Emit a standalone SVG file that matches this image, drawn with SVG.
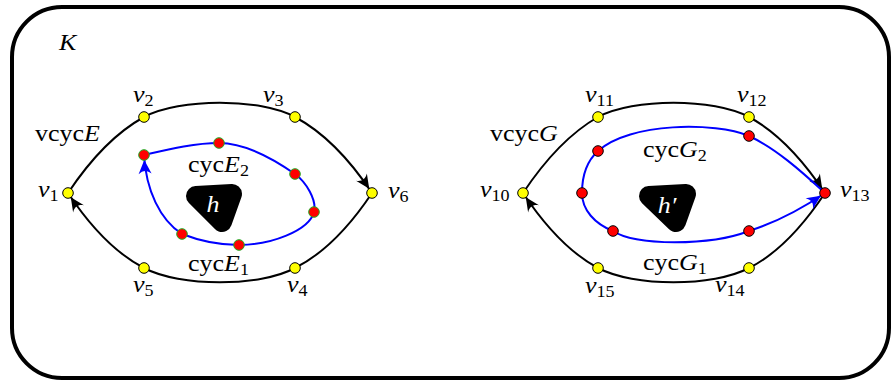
<svg xmlns="http://www.w3.org/2000/svg" width="891" height="383" viewBox="0 0 891 383">
<style>
.t{font-family:"Liberation Serif","Times New Roman",serif;font-size:23px;fill:#000}
.i{font-style:italic}
.s{font-size:16px}
.w{fill:#fff}
.blk{fill:none;stroke:#000;stroke-width:2}
.blu{fill:none;stroke:#0000ff;stroke-width:2}
.yv{fill:#ffff00;stroke:#000;stroke-width:1}
.rg{fill:#ff0000;stroke:#22aa22;stroke-width:1}
.rb{fill:#ff0000;stroke:#000;stroke-width:1}
.blob{fill:#000;stroke:#000;stroke-width:20;stroke-linejoin:round}
</style>
<defs>
<marker id="ak" markerUnits="userSpaceOnUse" viewBox="-16 -8 22 16" markerWidth="22" markerHeight="16" refX="5" refY="0" orient="auto" overflow="visible">
<path d="M0,0 L-14,-6.5 C-10,-2 -10,2 -14,6.5 Z" fill="#000"/>
</marker>
<marker id="ab" markerUnits="userSpaceOnUse" viewBox="-16 -8 22 16" markerWidth="22" markerHeight="16" refX="5" refY="0" orient="auto" overflow="visible">
<path d="M0,0 L-14,-6.5 C-10,-2 -10,2 -14,6.5 Z" fill="#0000ff"/>
</marker>
</defs>
<rect x="12" y="7" width="877" height="371" rx="50" fill="#fff" stroke="#000" stroke-width="4"/>
<text class="t i" transform="translate(59,50) scale(1.13,1)">K</text>

<g id="connectors">
<path class="blk" d="M68,193 C90,160 115,133 144,117 C180,98 260,98 295,117 C325,133 350,160 372,193" marker-end="url(#ak)"/>
<path class="blk" d="M372,193 C350,226 325,253 295,268 C260,287 180,287 144,268 C115,253 90,226 68,193" marker-end="url(#ak)"/>
<path class="blu" d="M144,155 C170,149 195,143 219,143 C247,143 275,160 295,174 C306,182 317,200 314,212 C309,231 270,245 239,245 C220,245 200,241 182,234 C160,220 146,190 144,155" marker-end="url(#ab)"/>
<path class="blk" d="M523,193 C545,160 570,133 598,117 C634,98 713,98 749,117 C779,133 803,160 825,193" marker-end="url(#ak)"/>
<path class="blk" d="M825,193 C803,226 779,253 749,268 C713,287 634,287 598,268 C570,253 545,226 523,193" marker-end="url(#ak)"/>
<path class="blu" d="M825,193 C800,170 775,148 749,136 C715,122 630,122 598,151 C588,160 582,175 582,193 C582,210 595,224 613,231 C635,246 710,246 749,231 C777,222 800,210 825,193" marker-end="url(#ab)"/>
</g>

<g id="h"><polygon class="blob" points="196,196 232,194 222,222"/><text class="t i w" text-anchor="middle" transform="translate(213,212) scale(1.13,1)">h</text></g>
<g id="hp"><polygon class="blob" points="649,196 686,194 676,222"/><text class="t i w" text-anchor="middle" transform="translate(667,213) scale(1.13,1)">h′</text></g>

<g id="vcycE"><text class="t" transform="translate(35,141) scale(1.13,1)">vcyc<tspan class="i">E</tspan></text></g>
<g id="cycE2"><text class="t" transform="translate(188,172) scale(1.13,1)">cyc<tspan class="i">E</tspan><tspan class="s" dy="4">2</tspan></text></g>
<g id="cycE1"><text class="t" transform="translate(188,271) scale(1.13,1)">cyc<tspan class="i">E</tspan><tspan class="s" dy="4">1</tspan></text></g>
<g id="vcycG"><text class="t" transform="translate(490,141) scale(1.13,1)">vcyc<tspan class="i">G</tspan></text></g>
<g id="cycG2"><text class="t" transform="translate(643,157) scale(1.13,1)">cyc<tspan class="i">G</tspan><tspan class="s" dy="4">2</tspan></text></g>
<g id="cycG1"><text class="t" transform="translate(643,270) scale(1.13,1)">cyc<tspan class="i">G</tspan><tspan class="s" dy="4">1</tspan></text></g>

<g id="cE">
<circle class="rg" cx="144" cy="155" r="5.3"/>
<circle class="rg" cx="219" cy="143" r="5.3"/>
<circle class="rg" cx="295" cy="174" r="5.3"/>
<circle class="rg" cx="314" cy="212" r="5.3"/>
<circle class="rg" cx="239" cy="245" r="5.3"/>
<circle class="rg" cx="182" cy="234" r="5.3"/>
</g>
<g id="cG">
<circle class="rb" cx="749" cy="136" r="5.3"/>
<circle class="rb" cx="598" cy="151" r="5.3"/>
<circle class="rb" cx="582" cy="193" r="5.3"/>
<circle class="rb" cx="613" cy="231" r="5.3"/>
<circle class="rb" cx="749" cy="231" r="5.3"/>
</g>

<g id="v1"><circle class="yv" cx="68" cy="193" r="5.3"/><text class="t" transform="translate(38,197) scale(1.13,1)"><tspan class="i">v</tspan><tspan class="s" dy="4">1</tspan></text></g>
<g id="v2"><circle class="yv" cx="144" cy="117" r="5.3"/><text class="t" transform="translate(133,102) scale(1.13,1)"><tspan class="i">v</tspan><tspan class="s" dy="4">2</tspan></text></g>
<g id="v3"><circle class="yv" cx="295" cy="117" r="5.3"/><text class="t" transform="translate(263,102) scale(1.13,1)"><tspan class="i">v</tspan><tspan class="s" dy="4">3</tspan></text></g>
<g id="v4"><circle class="yv" cx="295" cy="268" r="5.3"/><text class="t" transform="translate(287,292) scale(1.13,1)"><tspan class="i">v</tspan><tspan class="s" dy="4">4</tspan></text></g>
<g id="v5"><circle class="yv" cx="144" cy="268" r="5.3"/><text class="t" transform="translate(133,292) scale(1.13,1)"><tspan class="i">v</tspan><tspan class="s" dy="4">5</tspan></text></g>
<g id="v6"><circle class="yv" cx="372" cy="193" r="5.3"/><text class="t" transform="translate(388,198) scale(1.13,1)"><tspan class="i">v</tspan><tspan class="s" dy="4">6</tspan></text></g>

<g id="v10"><circle class="yv" cx="523" cy="193" r="5.3"/><text class="t" transform="translate(480,197) scale(1.13,1)"><tspan class="i">v</tspan><tspan class="s" dy="4">10</tspan></text></g>
<g id="v11"><circle class="yv" cx="598" cy="117" r="5.3"/><text class="t" transform="translate(585,102) scale(1.13,1)"><tspan class="i">v</tspan><tspan class="s" dy="4">11</tspan></text></g>
<g id="v12"><circle class="yv" cx="749" cy="117" r="5.3"/><text class="t" transform="translate(737,102) scale(1.13,1)"><tspan class="i">v</tspan><tspan class="s" dy="4">12</tspan></text></g>
<g id="v13"><circle class="rb" cx="825" cy="193" r="5.3"/><text class="t" transform="translate(840,197) scale(1.13,1)"><tspan class="i">v</tspan><tspan class="s" dy="4">13</tspan></text></g>
<g id="v14"><circle class="yv" cx="749" cy="268" r="5.3"/><text class="t" transform="translate(715,292) scale(1.13,1)"><tspan class="i">v</tspan><tspan class="s" dy="4">14</tspan></text></g>
<g id="v15"><circle class="yv" cx="598" cy="268" r="5.3"/><text class="t" transform="translate(585,293) scale(1.13,1)"><tspan class="i">v</tspan><tspan class="s" dy="4">15</tspan></text></g>
</svg>
